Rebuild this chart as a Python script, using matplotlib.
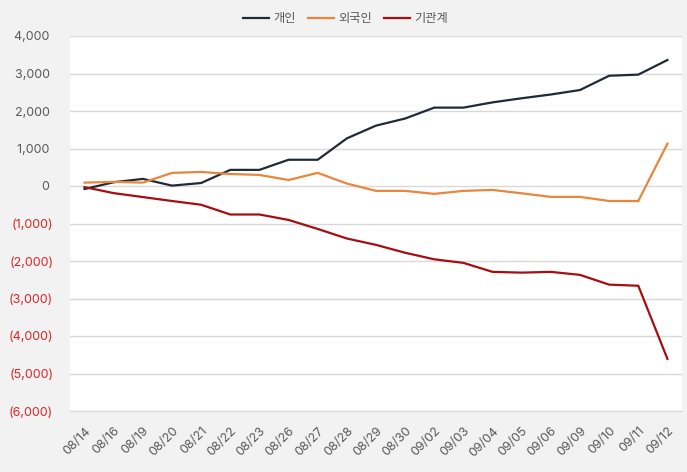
import matplotlib
matplotlib.use("Agg")
import matplotlib.pyplot as plt
from matplotlib.ticker import FixedLocator

plt.rcParams['font.family'] = ['Inter', 'Noto Sans CJK KR', 'DejaVu Sans']

dates = ["08/14", "08/16", "08/19", "08/20", "08/21", "08/22", "08/23", "08/26", "08/27",
         "08/28", "08/29", "08/30", "09/02", "09/03", "09/04", "09/05", "09/06", "09/09",
         "09/10", "09/11", "09/12"]
individual = [-80, 100, 190, 10, 80, 430, 430, 700, 700, 1270, 1610, 1800, 2090, 2090,
              2230, 2340, 2440, 2560, 2940, 2970, 3360]
foreign = [90, 110, 90, 350, 375, 320, 295, 160, 350, 65, -130, -130, -210, -130, -105,
           -195, -290, -290, -400, -400, 1130]
institution = [-30, -190, -295, -400, -500, -760, -760, -905, -1145, -1400, -1570, -1780,
               -1955, -2050, -2290, -2310, -2290, -2370, -2630, -2660, -4610]
series_names = ["개인", "외국인", "기관계"]
colors = ["#222a35", "#e8863c", "#a50e12"]
yticks = list(range(-6000, 4001, 1000))

fig = plt.figure(figsize=(6.87, 4.72), dpi=100, facecolor="#f2f2f2")
ax = fig.add_axes([70/687, 1-411/472, 612/687, 375/472])
ax.set_facecolor("white")

x = list(range(len(dates)))
for vals, name, c in zip([individual, foreign, institution], series_names, colors):
    ax.plot(x, vals, color=c, lw=1.6, label=name, solid_joinstyle='miter')

ax.set_xlim(-0.5, len(dates) - 0.5)
ax.set_ylim(-6000, 4000)
ax.yaxis.set_major_locator(FixedLocator(yticks))
labels = []
for v in yticks:
    if v < 0:
        labels.append("({:,})".format(-v))
    else:
        labels.append("{:,} ".format(v))
ax.set_yticklabels(labels)
for lbl, v in zip(ax.get_yticklabels(), yticks):
    lbl.set_color("#e02424" if v < 0 else "#595959")
ax.tick_params(axis='y', length=0, pad=12, labelsize=9)
ax.grid(axis='y', color="#d9d9d9", lw=1)
ax.set_axisbelow(True)

ax.set_xticks(x)
ax.set_xticklabels(dates, rotation=45, ha='right', va='top', rotation_mode='anchor')
ax.tick_params(axis='x', length=0, pad=10, labelsize=9, labelcolor="#595959")

for s in ['top', 'right', 'left']:
    ax.spines[s].set_visible(False)
ax.spines['bottom'].set_color("#d9d9d9")

fig.legend(loc='upper center', bbox_to_anchor=(0.503, 1 - 6/472), ncol=3, frameon=False,
           fontsize=8.8, handlelength=2.1, columnspacing=1.0, handletextpad=0.35,
           labelcolor="#595959", borderaxespad=0.2)

fig.savefig("out.png", dpi=100, facecolor=fig.get_facecolor())
